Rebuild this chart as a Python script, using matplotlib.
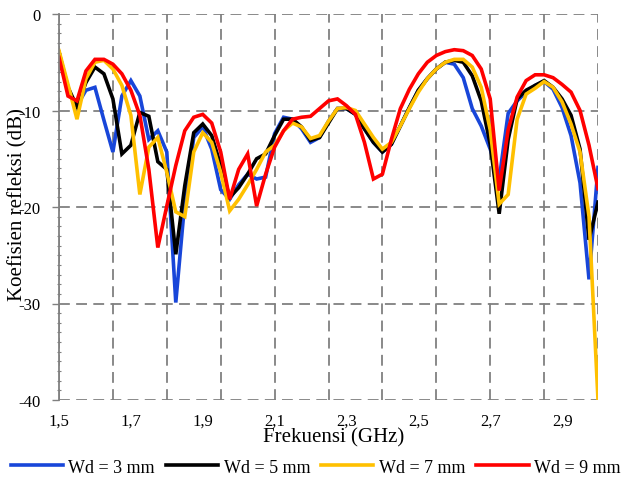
import numpy as np
import matplotlib
matplotlib.use("Agg")
import matplotlib.pyplot as plt

# Frequency axis: 1.5 .. 3.0 GHz, step 0.025 GHz (61 samples)
freq_start = 1.5
freq_step = 0.025

wd3 = [-4.0, -8.0, -9.5, -7.9, -7.6, -11.0, -14.3, -8.5, -6.9, -8.5,
       -13.0, -12.1, -14.3, -29.9, -19.5, -12.8, -11.7, -14.0, -18.2, -19.2,
       -17.7, -16.6, -17.1, -16.9, -12.4, -10.7, -10.9, -11.9, -13.3, -12.8,
       -11.1, -9.8, -9.8, -10.4, -11.9, -13.3, -14.3, -13.5, -11.6, -9.7,
       -7.9, -6.7, -5.7, -5.0, -5.2, -6.6, -9.8, -11.6, -14.0, -17.1,
       -10.3, -9.0, -8.1, -7.4, -7.0, -7.8, -9.7, -12.6, -17.5, -27.5,
       -15.9]

wd5 = [-4.0, -7.6, -9.6, -7.1, -5.5, -6.2, -8.8, -14.5, -13.6, -10.2,
       -10.6, -15.3, -16.1, -24.9, -17.8, -12.3, -11.4, -12.6, -15.7, -19.0,
       -18.0, -16.6, -15.0, -14.5, -12.6, -10.9, -10.9, -11.7, -13.1, -12.8,
       -11.3, -9.8, -9.8, -10.4, -11.9, -13.3, -14.3, -13.5, -11.6, -9.7,
       -7.9, -6.7, -5.7, -5.0, -4.8, -5.0, -6.4, -9.0, -13.5, -20.7,
       -13.0, -8.8, -7.9, -7.4, -6.9, -7.6, -8.8, -10.5, -14.0, -23.4,
       -19.5]

wd7 = [-3.8, -7.3, -10.9, -6.7, -5.0, -4.8, -5.7, -7.4, -10.5, -18.7,
       -13.8, -12.8, -16.4, -20.5, -21.0, -14.3, -12.3, -13.3, -16.4, -20.4,
       -19.2, -17.7, -16.1, -14.3, -13.6, -12.1, -11.3, -11.7, -12.9, -12.6,
       -11.1, -9.8, -9.7, -10.0, -11.4, -12.8, -14.0, -13.3, -11.6, -9.8,
       -8.1, -6.7, -5.7, -5.0, -4.7, -4.7, -5.5, -7.6, -12.0, -19.7,
       -18.7, -10.9, -8.3, -7.7, -7.0, -7.6, -9.1, -11.4, -14.3, -21.0,
       -40.0]

wd9 = [-4.5, -8.5, -9.0, -5.9, -4.7, -4.7, -5.2, -6.2, -7.9, -10.5,
       -16.1, -24.2, -19.9, -15.7, -12.1, -10.7, -10.4, -11.3, -14.3, -19.2,
       -16.1, -14.5, -19.9, -16.6, -13.8, -12.1, -10.9, -10.7, -10.6, -9.8,
       -9.0, -8.8, -9.5, -10.4, -13.3, -17.1, -16.6, -13.0, -9.8, -7.8,
       -6.2, -5.0, -4.3, -3.9, -3.7, -3.8, -4.3, -5.7, -8.8, -18.3,
       -12.0, -8.6, -6.9, -6.3, -6.3, -6.6, -7.3, -8.1, -10.0, -13.6,
       -18.1]

series_labels = ["Wd = 3 mm", "Wd = 5 mm", "Wd = 7 mm", "Wd = 9 mm"]
series_colors = ["#1846D9", "#000000", "#FFC000", "#FF0000"]

xtick_vals = [1.5, 1.7, 1.9, 2.1, 2.3, 2.5, 2.7, 2.9]
xtick_labels = ["1,5", "1,7", "1,9", "2,1", "2,3", "2,5", "2,7", "2,9"]
ytick_vals = [0, -10, -20, -30, -40]
ytick_labels = ["0", "-10", "-20", "-30", "-40"]

plt.rcParams['font.family'] = ['Liberation Serif', 'DejaVu Serif']

n = len(wd3)
freq = freq_start + freq_step * np.arange(n)

fig = plt.figure(figsize=(6.25, 4.81), dpi=100)
ax = fig.add_axes([59/625, 1-401/481, 539/625, 386/481])

for vals, lab, col in zip([wd3, wd5, wd7, wd9], series_labels, series_colors):
    ax.plot(freq, vals, color=col, lw=2.6, label=lab, solid_joinstyle='miter',
            clip_on=True)

ax.set_xlim(1.5, 3.0)
ax.set_ylim(-40, 0)

# ticks / labels
ax.set_xticks(xtick_vals)
ax.set_xticklabels(xtick_labels, fontsize=12)
ax.set_xticks(np.linspace(1.5, 3.0, 11), minor=True)
ax.tick_params(axis='x', which='both', length=0, pad=9)

ax.set_yticks(ytick_vals)
ax.set_yticklabels(ytick_labels, fontsize=12)
ax.set_yticks(np.arange(-40, 1, 1), minor=True)
ax.tick_params(axis='y', which='major', length=5, width=1, color='#808080',
               direction='out', pad=8)
ax.tick_params(axis='y', which='minor', length=3, width=0.8, color='#808080',
               direction='inout')

# grid
grid_kw = dict(color='#808080', linestyle=(0, (6, 3.5)), linewidth=1.3)
ax.grid(False)
for gx in np.linspace(1.5, 3.0, 11):
    ax.axvline(gx, zorder=0.5, **grid_kw)
for gy in ytick_vals:
    ax.axhline(gy, zorder=0.5, **grid_kw)

for s in ['top', 'right', 'bottom']:
    ax.spines[s].set_visible(False)
ax.spines['left'].set_color('#808080')
ax.spines['left'].set_linewidth(1.3)

ax.set_xlabel("Frekuensi (GHz)", fontsize=15)
ax.xaxis.set_label_coords(0.51, -0.07)
ax.set_ylabel("Koefisien refleksi (dB)", fontsize=15)
ax.yaxis.set_label_coords(-0.058, 0.51)

fig.legend(loc='center', bbox_to_anchor=(0.505, 0.027), ncol=4, frameon=False,
           fontsize=13, handlelength=2.9, handletextpad=0.3,
           columnspacing=0.6, borderaxespad=0, borderpad=0)

fig.savefig("out.png", dpi=100)
